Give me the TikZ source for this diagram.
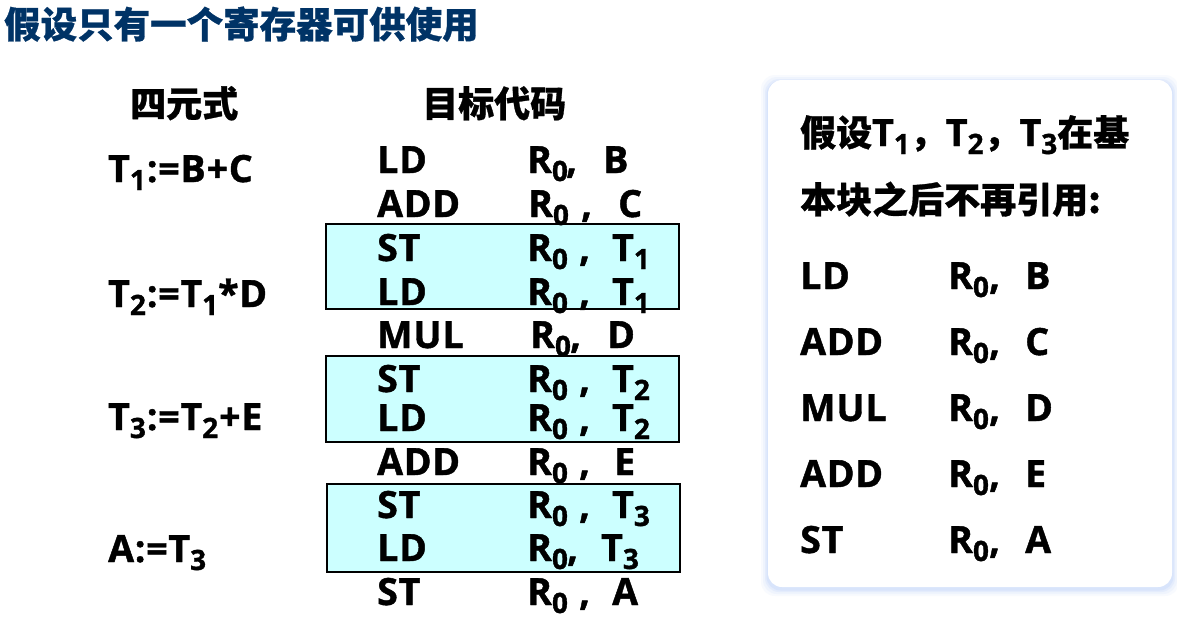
\documentclass[tikz,border=0pt]{standalone}
\usepackage{fontspec}
\setmainfont{Open Sans}[BoldFeatures={FakeBold=1.2,LetterSpace=2}]
\newfontfamily\cjk{Noto Sans CJK SC}[BoldFeatures={FakeBold=0.8}]
\definecolor{navy}{RGB}{0,51,102}
\definecolor{boxfill}{RGB}{204,255,255}
\definecolor{glow}{RGB}{190,210,250}
\newcommand\lsub[1]{\raisebox{-8pt}{\fontsize{28}{28}\selectfont #1}}
\begin{document}
\begin{tikzpicture}[x=1pt,y=-1pt,
  txt/.style={anchor=base west,inner sep=0pt,font=\fontsize{37.5}{40}\selectfont\bfseries},
  cjktxt/.style={anchor=base west,inner sep=0pt,font=\fontsize{36}{40}\selectfont\bfseries\cjk},
  hlbox/.style={draw=black,line width=1.3pt,fill=boxfill}]
\useasboundingbox (0,0) rectangle (1177,616);
\fill[white] (0,0) rectangle (1177,616);
% title
\node[cjktxt,text=navy,font=\fontsize{36.5}{40}\selectfont\bfseries\cjk] (title) at (4,38) {假设只有一个寄存器可供使用};
% highlight boxes
\draw[hlbox] (326,224) rectangle (679,309);
\draw[hlbox] (326,356) rectangle (679,442);
\draw[hlbox] (327,484) rectangle (680,572);
% headers
\node[cjktxt] (h1) at (130,117) {四元式};
\node[cjktxt] (h2) at (422,117) {目标代码};
% quadruples
\node[txt] (q1) at (108,182) {T\lsub{1}\kern1pt:=B\kern1pt+C};
\node[txt] (q2) at (108,307) {T\lsub{2}\kern1pt:=T\lsub{1}*D};
\node[txt] (q3) at (108,430) {T\lsub{3}\kern1pt:=T\lsub{2}\kern1pt+E};
\node[txt] (q4) at (108,562) {A:=T\lsub{3}};
% target code
\newcommand\instr[7]{%
  \node[txt] (#1op) at (377,#2) {#3};
  \node[txt] (#1r) at (#4,#2) {R\lsub{0}};
  \node[txt] (#1c) at (#5,#2) {,};
  \node[txt] (#1s) at (#6,#2) {#7};}
\instr{a}{173}{LD}{527}{566}{603}{B}
\instr{b}{217}{ADD}{528}{581}{618}{C}
\instr{c}{261}{ST}{527}{579}{612}{T\lsub{1}}
\instr{d}{305}{LD}{527}{579}{612}{T\lsub{1}}
\instr{e}{348}{MUL}{530}{570}{607}{D}
\instr{f}{392}{ST}{527}{579}{612}{T\lsub{2}}
\instr{g}{431}{LD}{527}{579}{612}{T\lsub{2}}
\instr{h}{475}{ADD}{527}{579}{614}{E}
\instr{i}{518}{ST}{527}{579}{612}{T\lsub{3}}
\instr{j}{561}{LD}{527}{567}{601}{T\lsub{3}}
\instr{k}{605}{ST}{527}{579}{612}{A}
% right panel with glow
\foreach \k/\o in {7/0.10,5/0.15,3/0.22,1.5/0.3}{
  \fill[glow,opacity=\o,rounded corners=14pt] (768-\k,80-\k+2) rectangle (1172+\k,587+\k+2);
}
\fill[white,rounded corners=14pt] (768,80) rectangle (1172,587);
\node[anchor=base west,inner sep=0pt,font=\fontsize{37.5}{40}\selectfont\bfseries] (p1) at (800,146)
  {{\cjk\fontsize{36}{40}\selectfont 假设}T\lsub{1}{\cjk\fontsize{36}{40}\selectfont ，}T\lsub{2}{\cjk\fontsize{36}{40}\selectfont ，}T\lsub{3}{\cjk\fontsize{36}{40}\selectfont 在基}};
\node[cjktxt] (p2) at (800,213) {本块之后不再引用:};
\newcommand\rinstr[4]{%
  \node[txt] (#1op) at (800,#2) {#3};
  \node[txt] (#1r) at (948,#2) {R\lsub{0}};
  \node[txt] (#1c) at (989,#2) {,};
  \node[txt] (#1s) at (1025,#2) {#4};}
\rinstr{ra}{289}{LD}{B}
\rinstr{rb}{355}{ADD}{C}
\rinstr{rc}{421}{MUL}{D}
\rinstr{rd}{487}{ADD}{E}
\rinstr{re}{553}{ST}{A}
\end{tikzpicture}
\end{document}
